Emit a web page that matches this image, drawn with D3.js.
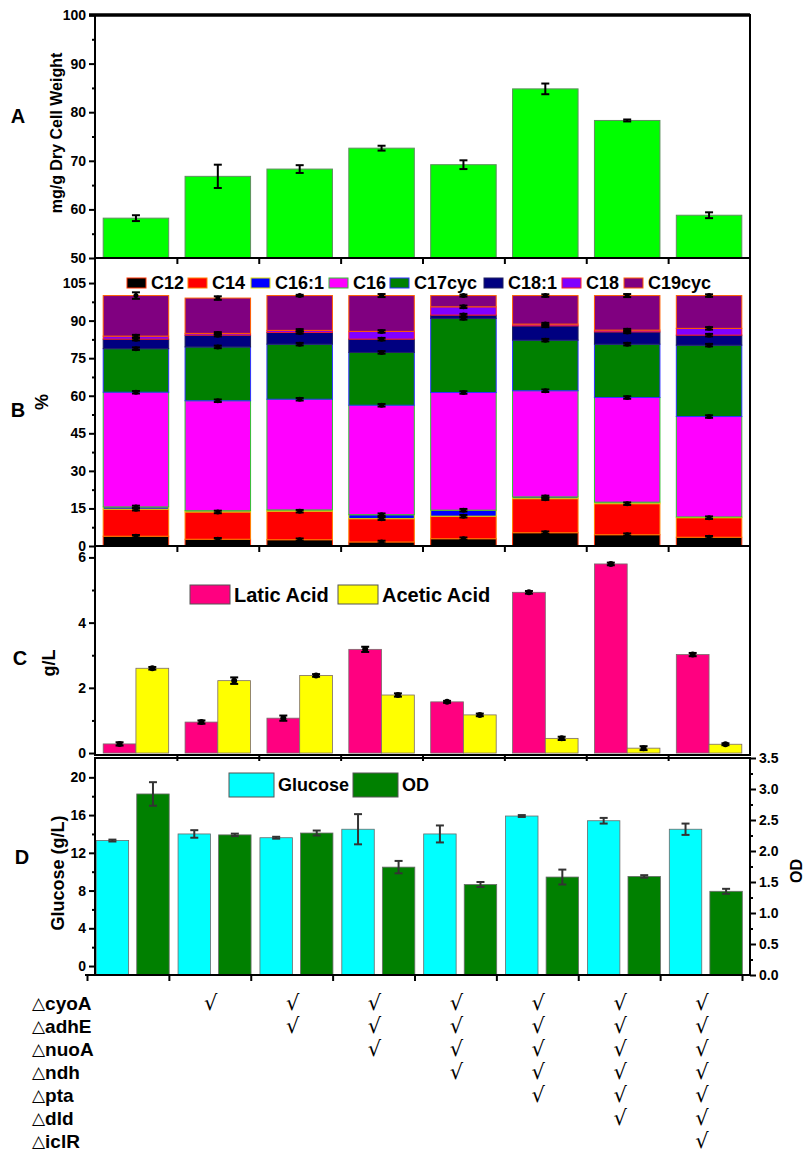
<!DOCTYPE html>
<html>
<head>
<meta charset="utf-8">
<script src="https://cdn.jsdelivr.net/npm/d3@7"></script>
<style>
  body { margin: 0; background: #fff; }
  svg text { font-family: "Liberation Sans", Arial, sans-serif; font-weight: bold; fill: #000; }
</style>
</head>
<body>
<svg id="chart" width="804" height="1152"></svg>
<script>

// strains, in the order of the knockout table (0 = parent strain)
const strains = ["S0", "S1", "S2", "S3", "S4", "S5", "S6", "S7"];

// A - total lipid, mg/g dry cell weight
const lipid    = [58.2, 66.8, 68.3, 72.6, 69.2, 84.8, 78.3, 58.8];
const lipidErr = [0.6, 2.4, 0.8, 0.5, 0.9, 1.1, 0.2, 0.6];

// B - fatty acid composition, %
const fattyAcids = ["C12", "C14", "C16:1", "C16", "C17cyc", "C18:1", "C18", "C19cyc"];
const faColors   = ["#000000", "#ff0000", "#0000ff", "#ff00ff", "#008000", "#000080", "#8000ff", "#800080"];
const faEdges    = ["#ff3000", "#ff8000", "#e0e000", "#30c030", "#3030ff", "#202060", "#ff2020", "#ff6000"];
const c12    = [3.9, 2.7, 2.5, 1.6, 2.9, 5.3, 4.5, 3.5];
const c14    = [10.8, 10.9, 11.4, 9.3, 9.0, 13.6, 12.4, 7.8];
const c16_1  = [0.9, 0.5, 0.5, 1.6, 2.4, 0.7, 0.6, 0.3];
const c16    = [45.8, 43.9, 44.2, 43.7, 47.0, 42.4, 41.8, 40.1];
const c17cyc = [17.4, 21.5, 22.0, 21.1, 29.6, 20.2, 21.3, 28.5];
const c18_1  = [3.8, 4.7, 4.7, 5.3, 1.3, 5.7, 4.9, 4.0];
const c18    = [1.2, 0.7, 0.8, 3.1, 3.3, 0.7, 0.7, 2.7];
const c19cyc = [16.2, 14.1, 13.9, 14.3, 4.5, 11.4, 13.8, 13.1];
const topErr = [1.3, 0.7, 0.3, 0.6, 0.4, 0.5, 0.6, 0.5];

// C - organic acids, g/L
const lactic     = [0.28, 0.95, 1.07, 3.18, 1.57, 4.93, 5.80, 3.02];
const lacticErr  = [0.05, 0.05, 0.08, 0.08, 0.03, 0.04, 0.04, 0.05];
const acetic     = [2.60, 2.22, 2.38, 1.78, 1.17, 0.45, 0.15, 0.27];
const aceticErr  = [0.04, 0.10, 0.04, 0.05, 0.04, 0.05, 0.06, 0.03];

// D - glucose (g/L) and OD
const glucose    = [13.3, 14.0, 13.6, 14.5, 14.0, 15.9, 15.4, 14.5];
const glucoseErr = [0.1, 0.4, 0.1, 1.6, 0.9, 0.1, 0.3, 0.6];
const od         = [2.92, 2.26, 2.29, 1.74, 1.46, 1.58, 1.59, 1.35];
const odErr      = [0.19, 0.02, 0.04, 0.10, 0.04, 0.12, 0.02, 0.04];

// knockout table: strain i carries the first knockouts[i] deletions
const genes     = ["cyoA", "adhE", "nuoA", "ndh", "pta", "dld", "iclR"];
const knockouts = [0, 1, 2, 3, 4, 5, 6, 7];


const svg = d3.select("#chart");
const L = 95, R = 750;

let x = d3.scaleBand()
  .domain(strains)
  .range([L, R])
  .paddingInner(0.2)
  .paddingOuter(0.1);

let xEdge = d3.scaleLinear().domain([0, 8]).range([L, R]);

let tidy = (g, size) => {
  g.attr("font-family", null).attr("font-size", null);
  g.select(".domain").remove();
  g.selectAll(".tick line").attr("stroke", "#000").attr("stroke-width", 2);
  g.selectAll(".tick text").style("font-size", size + "px");
};

let yAxis = (yScale, major, minor, fmt, side, xPos, size) => {
  let make = side === "right" ? d3.axisRight : d3.axisLeft;
  svg.append("g")
    .attr("transform", `translate(${xPos},0)`)
    .call(make(yScale).tickValues(minor).tickSize(3).tickFormat(""))
    .call(g => tidy(g, size));
  svg.append("g")
    .attr("transform", `translate(${xPos},0)`)
    .call(make(yScale).tickValues(major).tickSize(6).tickPadding(3).tickFormat(fmt))
    .call(g => tidy(g, size));
};

let bottomTicks = (yPos, scale, values) => {
  svg.append("g")
    .attr("transform", `translate(0,${yPos})`)
    .call(d3.axisBottom(scale).tickValues(values).tickSize(6).tickFormat(""))
    .call(g => tidy(g, 12));
};

let frame = (top, bottom) => {
  svg.append("rect")
    .attr("x", L).attr("y", top)
    .attr("width", R - L).attr("height", bottom - top)
    .attr("fill", "none")
    .attr("stroke", "#000")
    .attr("stroke-width", 2);
};

let errorBars = (g, data, color, dot) => {
  let sel = g.selectAll("g.err").data(data).enter().append("g").classed("err", true);
  sel.append("line")
    .attr("x1", d => d.cx).attr("x2", d => d.cx)
    .attr("y1", d => d.lo).attr("y2", d => d.hi)
    .attr("stroke", color).attr("stroke-width", 2);
  sel.selectAll("line.cap")
    .data(d => [[d.cx, d.lo], [d.cx, d.hi]])
    .enter().append("line")
    .classed("cap", true)
    .attr("x1", p => p[0] - 4).attr("x2", p => p[0] + 4)
    .attr("y1", p => p[1]).attr("y2", p => p[1])
    .attr("stroke", color).attr("stroke-width", 2);
  if (dot) {
    sel.append("circle")
      .attr("cx", d => d.cx).attr("cy", d => d.mid)
      .attr("r", dot).attr("fill", color);
  }
};

let panelLabel = (txt, cx, cy) => {
  svg.append("text")
    .attr("x", cx).attr("y", cy)
    .attr("text-anchor", "middle")
    .attr("dominant-baseline", "central")
    .style("font-size", "20px")
    .text(txt);
};

let axisTitle = (txt, cx, cy, size) => {
  svg.append("text")
    .attr("transform", `translate(${cx},${cy}) rotate(-90)`)
    .attr("text-anchor", "middle")
    .attr("dominant-baseline", "central")
    .style("font-size", size + "px")
    .text(txt);
};


// ---------- A ----------
const aTop = 15, aBot = 258;
let yA = d3.scaleLinear().domain([50, 100]).range([aBot, aTop]);

svg.append("g").selectAll("rect")
  .data(lipid)
  .enter().append("rect")
  .attr("x", (d, i) => x(strains[i]))
  .attr("y", d => yA(d))
  .attr("width", x.bandwidth())
  .attr("height", d => aBot - yA(d))
  .attr("fill", "#00ff00")
  .attr("stroke", "#5f8f5f")
  .attr("stroke-width", 1);

errorBars(svg.append("g"), lipid.map((d, i) => ({
  cx: x(strains[i]) + x.bandwidth() / 2,
  lo: yA(d - lipidErr[i]), hi: yA(d + lipidErr[i]), mid: yA(d)
})), "#000", 0);

frame(aTop, aBot);
svg.append("line")
  .attr("x1", L - 6).attr("x2", R)
  .attr("y1", aTop).attr("y2", aTop)
  .attr("stroke", "#000").attr("stroke-width", 3.5);
yAxis(yA, d3.range(50, 101, 10), d3.range(55, 100, 10), d3.format("d"), "left", L, 14);
bottomTicks(aBot, xEdge, d3.range(1, 8));
panelLabel("A", 18, 116);
axisTitle("mg/g Dry Cell Weight", 56, 133, 16);


// ---------- B ----------
const bTop = 258, bBot = 546;
let yB = d3.scaleLinear().domain([0, 115]).range([bBot, bTop]);

let faSeries = [c12, c14, c16_1, c16, c17cyc, c18_1, c18, c19cyc];
let rows = strains.map((s, i) => {
  let r = { strain: s };
  fattyAcids.forEach((fa, k) => r[fa] = faSeries[k][i]);
  return r;
});
let stacked = d3.stack().keys(fattyAcids)(rows);

let layers = svg.append("g").selectAll("g.layer")
  .data(stacked)
  .enter().append("g")
  .classed("layer", true)
  .attr("fill", (d, k) => faColors[k])
  .attr("stroke", (d, k) => faEdges[k])
  .attr("stroke-width", 1);

layers.selectAll("rect")
  .data(d => d)
  .enter().append("rect")
  .attr("x", d => x(d.data.strain))
  .attr("y", d => yB(d[1]))
  .attr("width", x.bandwidth())
  .attr("height", d => yB(d[0]) - yB(d[1]));

// small error markers at the boundaries
let bErr = [];
stacked.forEach((layer, k) => {
  layer.forEach((d, i) => {
    let e = k === fattyAcids.length - 1 ? topErr[i] : 0.5;
    if (faSeries[k][i] < 0.7) return;
    bErr.push({
      cx: x(d.data.strain) + x.bandwidth() / 2,
      lo: yB(d[1] - e), hi: yB(d[1] + e), mid: yB(d[1])
    });
  });
});
errorBars(svg.append("g"), bErr, "#000", 2.5);

frame(bTop, bBot);
yAxis(yB, d3.range(0, 106, 15), d3.range(7.5, 106, 15), d3.format("d"), "left", L, 14);
bottomTicks(bBot, xEdge, d3.range(1, 8));

// legend
let legB = svg.append("g").attr("transform", "translate(127,283)");
let legX = [0, 61, 124, 202, 263, 357, 435, 497];
legB.selectAll("g")
  .data(fattyAcids)
  .enter().append("g")
  .attr("transform", (d, k) => `translate(${legX[k]},0)`)
  .each(function(d, k) {
    let g = d3.select(this);
    g.append("rect")
      .attr("x", 0).attr("y", -5)
      .attr("width", 19).attr("height", 10)
      .attr("fill", faColors[k])
      .attr("stroke", faEdges[k]).attr("stroke-width", 1);
    g.append("text")
      .attr("x", 24).attr("y", 0)
      .attr("dominant-baseline", "central")
      .style("font-size", "18px")
      .text(d);
  });

panelLabel("B", 18, 410);
axisTitle("%", 42, 402, 18);


// ---------- C ----------
const cTop = 546, cBot = 755;
let yC = d3.scaleLinear().domain([-0.06, 6.35]).range([cBot, cTop]);
let acids = ["Lactic", "Acetic"];
let acidColors = ["#ff0080", "#ffff00"];
let xC = d3.scaleBand().domain(acids).range([0, x.bandwidth()]);

let acidRows = [lactic, acetic];
let acidErrs = [lacticErr, aceticErr];

acidRows.forEach((vals, k) => {
  svg.append("g").selectAll("rect")
    .data(vals)
    .enter().append("rect")
    .attr("x", (d, i) => x(strains[i]) + xC(acids[k]))
    .attr("y", d => yC(d))
    .attr("width", xC.bandwidth())
    .attr("height", d => yC(0) - yC(d))
    .attr("fill", acidColors[k])
    .attr("stroke", "#7a6a6a")
    .attr("stroke-width", 0.8);

  errorBars(svg.append("g"), vals.map((d, i) => ({
    cx: x(strains[i]) + xC(acids[k]) + xC.bandwidth() / 2,
    lo: yC(d - acidErrs[k][i]), hi: yC(d + acidErrs[k][i]), mid: yC(d)
  })), "#000", 3);
});

frame(cTop, cBot);
yAxis(yC, [0, 2, 4, 6], [1, 3, 5], d3.format("d"), "left", L, 14);
bottomTicks(cBot, xEdge, d3.range(1, 8));

let legC = svg.append("g").attr("transform", "translate(190,595)");
let legCx = [0, 148];
let legCtext = ["Latic Acid", "Acetic Acid"];
acids.forEach((a, k) => {
  legC.append("rect")
    .attr("x", legCx[k]).attr("y", -10)
    .attr("width", 40).attr("height", 19)
    .attr("fill", acidColors[k])
    .attr("stroke", "#555").attr("stroke-width", 1);
  legC.append("text")
    .attr("x", legCx[k] + 44).attr("y", 0)
    .attr("dominant-baseline", "central")
    .style("font-size", "20px")
    .text(legCtext[k]);
});

panelLabel("C", 20, 658);
axisTitle("g/L", 49, 663, 18);


// ---------- D ----------
const dTop = 758, dBot = 975;
let yG = d3.scaleLinear().domain([-0.95, 22.05]).range([dBot, dTop]);
let yOD = d3.scaleLinear().domain([0, 3.5]).range([dBot, dTop]);
let dKeys = ["Glucose", "OD"];
let dColors = ["#00ffff", "#008000"];
let xD = d3.scaleBand().domain(dKeys).range([-7, 66]).paddingInner(0.2);

let dSets = [
  { vals: glucose, errs: glucoseErr, y: yG },
  { vals: od, errs: odErr, y: yOD }
];

dSets.forEach((set, k) => {
  svg.append("g").selectAll("rect")
    .data(set.vals)
    .enter().append("rect")
    .attr("x", (d, i) => x(strains[i]) + xD(dKeys[k]))
    .attr("y", d => set.y(d))
    .attr("width", xD.bandwidth())
    .attr("height", d => dBot - set.y(d))
    .attr("fill", dColors[k])
    .attr("stroke", "#6a6a6a")
    .attr("stroke-width", 0.8);

  errorBars(svg.append("g"), set.vals.map((d, i) => ({
    cx: x(strains[i]) + xD(dKeys[k]) + xD.bandwidth() / 2,
    lo: set.y(d - set.errs[i]), hi: set.y(d + set.errs[i]), mid: set.y(d)
  })), "#333", 0);
});

// frame (bottom axis of this panel sits a few px left)
svg.append("path")
  .attr("d", `M${L},${dBot} V${dTop} H${R} V${dBot}`)
  .attr("fill", "none").attr("stroke", "#000").attr("stroke-width", 2);
let xEdgeD = d3.scaleLinear().domain([0, 8]).range([L - 8, R - 8]);
svg.append("line")
  .attr("x1", L - 10).attr("x2", R)
  .attr("y1", dBot).attr("y2", dBot)
  .attr("stroke", "#000").attr("stroke-width", 2);
bottomTicks(dBot, xEdgeD, d3.range(0, 9));

yAxis(yG, d3.range(0, 21, 4), d3.range(2, 22, 4), d3.format("d"), "left", L, 14);
yAxis(yOD, d3.range(0, 3.51, 0.5), d3.range(0.25, 3.5, 0.5), d3.format(".1f"), "right", R, 14);

let legD = svg.append("g").attr("transform", "translate(229,785)");
let legDx = [0, 124];
dKeys.forEach((k2, k) => {
  legD.append("rect")
    .attr("x", legDx[k]).attr("y", -12)
    .attr("width", 45).attr("height", 24)
    .attr("fill", dColors[k])
    .attr("stroke", "#555").attr("stroke-width", 1);
  legD.append("text")
    .attr("x", legDx[k] + 49).attr("y", 0)
    .attr("dominant-baseline", "central")
    .style("font-size", "18px")
    .text(k2);
});

panelLabel("D", 22, 857);
axisTitle("Glucose (g/L)", 58, 873, 18);
axisTitle("OD", 796, 871, 16);


// ---------- knockout table ----------
let yRow = d3.scalePoint().domain(genes).range([1003, 1141]);

let rowLab = svg.append("g").selectAll("text")
  .data(genes)
  .enter().append("text")
  .attr("x", 32)
  .attr("y", d => yRow(d))
  .attr("dominant-baseline", "central")
  .style("font-size", "19px");
rowLab.append("tspan")
  .style("font-weight", "normal")
  .style("font-family", "'DejaVu Sans', sans-serif")
  .style("font-size", "17px")
  .text("\u25B3");
rowLab.append("tspan").text(d => d);

let checks = [];
strains.forEach((s, i) => {
  genes.slice(0, knockouts[i]).forEach(gn => checks.push({ strain: s, gene: gn }));
});

svg.append("g").selectAll("text")
  .data(checks)
  .enter().append("text")
  .attr("x", d => x(d.strain) + x.bandwidth() / 2 - 7)
  .attr("y", d => yRow(d.gene))
  .attr("text-anchor", "middle")
  .attr("dominant-baseline", "central")
  .style("font-weight", "normal")
  .style("font-family", "'DejaVu Sans', sans-serif")
  .style("font-size", "21px")
  .text("\u221A");

</script>
</body>
</html>
